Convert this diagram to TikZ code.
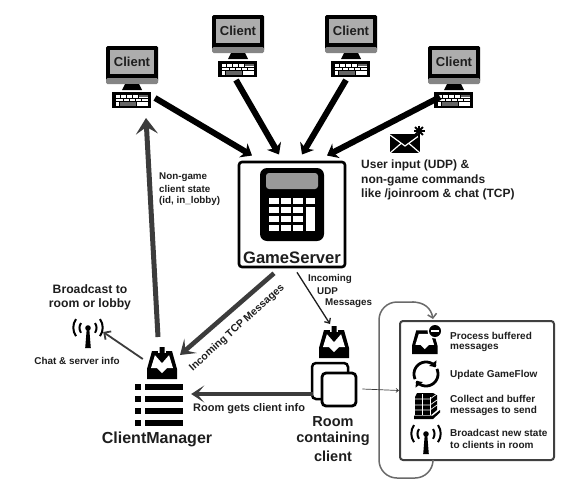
\documentclass[tikz,border=0pt]{standalone}
\usepackage{fontspec}
\setmainfont{Liberation Sans}
\usetikzlibrary{arrows.meta}
\definecolor{ink}{HTML}{1E1E1E}
\definecolor{dk}{HTML}{3C3C3C}
\definecolor{loopc}{HTML}{6A6A6A}
\tikzset{
  lbl/.style={font=\bfseries\fontsize{#1}{#1}\selectfont,text=ink,inner sep=0pt},
  lleft/.style={lbl=#1,anchor=west},
  bigarrow/.style={line width=6pt,black,-{Stealth[length=10pt,width=16pt,inset=3pt]}},
  darkarrow/.style={line width=5pt,dk,-{Stealth[length=16pt,width=22pt,inset=7pt]}},
  tcparrow/.style={line width=4.6pt,dk,-{Stealth[length=14pt,width=19pt,inset=7pt]}},
  medarrow/.style={line width=3.6pt,dk,-{Stealth[length=13pt,width=17pt,inset=7pt]}},
  smallarrow/.style={line width=1.8pt,dk,-{Straight Barb[length=5pt,width=10pt]}},
  thinarrow/.style={line width=.7pt,dk,-{Straight Barb[length=2.5pt,width=4pt]}},
  loopline/.style={line width=1.5pt,loopc,rounded corners=18pt},
  clientlabel/.style={lbl=13,text=ink},
  pics/clienticon/.style={code={
    \fill[black,rounded corners=1.5pt] (0,0) rectangle (52,36);
    \fill[black!48,rounded corners=1.5pt] (0,32) rectangle (52,38);
    \fill[black!32] (4,4) rectangle (48,28);
    \fill[black] (19,38) -- (33,38) -- (36,44) -- (16,44) -- cycle;
    \fill[black] (6,46) rectangle (45,62);
    \fill[white] (9.5,48.5) rectangle (42,59.5);
    \foreach \yy in {52,55.5} \draw[black,line width=.8pt] (9.5,\yy) -- (42,\yy);
    \foreach \xx in {14,20,26,32} \draw[black,line width=.8pt] (\xx,48.5) -- (\xx,52);
    \foreach \xx in {17,23,29,35} \draw[black,line width=.8pt] (\xx,52) -- (\xx,55.5);
    \foreach \xx in {13,30} \draw[black,line width=.8pt] (\xx,55.5) -- (\xx,59.5);
    \fill[black!60] (33,48.5) rectangle (42,51.2);
    \fill[black!60] (14,56.3) rectangle (30,59.5);
  }},
  pics/inboxicon/.style={code={
    \fill[black] (5,4) -- (25,4) -- (30,22) -- (30,32) -- (0,32) -- (0,22) -- cycle;
    \fill[white] (8,8) -- (22,8) -- (26,21) -- (20,21) -- (15,26) -- (10,21) -- (4,21) -- cycle;
    \fill[white] (11,0) rectangle (19,6);
    \fill[black] (12.5,0) -- (17.5,0) -- (17.5,8) -- (22,8) -- (15,16) -- (8,8) -- (12.5,8) -- cycle;
  }},
  pics/antennaicon/.style={code={
    \fill[black] (0,0) circle[radius=2.8pt];
    \fill[black] (-1.2,0) -- (1.2,0) -- (2.8,20) -- (-2.8,20) -- cycle;
    \draw[black,line width=2pt] (7,-5) arc[start angle=35,end angle=-35,radius=8.5pt];
    \draw[black,line width=2pt] (-7,-5) arc[start angle=145,end angle=215,radius=8.5pt];
    \draw[black,line width=2pt] (12,-9) arc[start angle=35,end angle=-35,radius=15pt];
    \draw[black,line width=2pt] (-12,-9) arc[start angle=145,end angle=215,radius=15pt];
  }}
}
\begin{document}
\begin{tikzpicture}[x=1pt,y=-1pt]
\useasboundingbox (0,0) rectangle (567,490);
\fill[white] (0,0) rectangle (567,490);

% clients
\pic at (106,46) {clienticon}; \node[clientlabel] (c1) at (132,62) {Client};
\pic at (212,15) {clienticon}; \node[clientlabel] (c2) at (238,31) {Client};
\pic at (325,15) {clienticon}; \node[clientlabel] (c3) at (351,31) {Client};
\pic at (428,46) {clienticon}; \node[clientlabel] (c4) at (454,62) {Client};

% game server
\node[draw=black,line width=2.6pt,rounded corners=3pt,minimum width=106pt,minimum height=105pt,inner sep=0pt] (gs) at (292,214.5) {};
\fill[black,rounded corners=7pt] (260,168) rectangle (324,241);
\fill[black!40,rounded corners=3pt] (266,173) rectangle (318,189);
\foreach \yy in {198,207,216,225} \foreach \xx in {269,281,293} \fill[white] (\xx,\yy) rectangle (\xx+9.5,\yy+6);
\fill[white] (306,198) rectangle (315,204);
\fill[white] (306,207) rectangle (315,231);
\node[lbl=16.6] (gst) at (292,258) {GameServer};

% big arrows
\draw[bigarrow] ([shift={(23,36)}]c1.center) -- ([shift={(-40,-59)}]gs.center);
\draw[bigarrow] ([shift={(-2,49)}]c2.center) -- ([shift={(-13,-60)}]gs.center);
\draw[bigarrow] ([shift={(-5,49)}]c3.center) -- ([shift={(10,-60)}]gs.center);
\draw[bigarrow] ([shift={(-14,35)}]c4.center) -- ([shift={(35,-59)}]gs.center);

% envelope
\fill[black] (390,134) rectangle (420,153);
\draw[white,line width=1.2pt] (390,135) -- (405,146) -- (420,135);
\draw[white,line width=1.2pt] (390,153) -- (401,143.5);
\draw[white,line width=1.2pt] (420,153) -- (409,143.5);
\foreach \aa in {0,45,90,135} \draw[black,line width=2pt] (419,131) ++(\aa:5.5pt) -- ++(\aa+180:11pt);
\node[lleft=12] (u1) at (361,165.5) {User input (UDP) \&};
\node[lleft=12] (u2) at (361,180) {non-game commands};
\node[lleft=12] (u3) at (361,194) {like /joinroom \& chat (TCP)};

% client manager
\pic at (147,347) {inboxicon};
\node[inner sep=0pt,minimum width=30pt,minimum height=32pt] (cmin) at (162,363) {};
\foreach \yy in {384,396,408,420} {
  \fill[black] (135,\yy) rectangle (141,\yy+6);
  \fill[black] (145,\yy) rectangle (183,\yy+6);
}
\node[inner sep=0pt,minimum width=48pt,minimum height=42pt] (cml) at (159,405) {};
\node[lbl=16] (cm) at (157,439) {ClientManager};

% room
\pic at (319,326) {inboxicon};
\node[inner sep=0pt,minimum width=30pt,minimum height=32pt] (rin) at (334,342) {};
\draw[black,line width=2.5pt,rounded corners=4pt] (321,399) -- (312,399) -- (312,363) -- (348,363) -- (348,372);
\node[draw=black,line width=2.8pt,rounded corners=4pt,minimum width=34pt,minimum height=33pt,inner sep=0pt] (room) at (339,389.5) {};
\node[lbl=14.5] (rt1) at (333,422) {Room};
\node[lbl=14.5] (rt2) at (333,439) {containing};
\node[lbl=14.5] (rt3) at (333,456) {client};

% broadcast
\pic at (88,328) {antennaicon};
\node[inner sep=0pt,minimum width=30pt,minimum height=30pt] (ant) at (88,332) {};
\node[lbl=12.2] (b1) at (90,289.5) {Broadcast to};
\node[lbl=12.2] (b2) at (90,304) {room or lobby};
\node[lbl=9.9] (chat) at (77,361) {Chat \& server info};

% process box
\node[draw=black!75,line width=2pt,rounded corners=3pt,minimum width=154pt,minimum height=139pt,inner sep=0pt] (pb) at (477,390.5) {};
\coordinate (loopa) at (433,461);
\coordinate (loopb) at (433,319);
\draw[loopline] (loopa) -- (433,478) -- (379,478) -- (379,302) -- (414,302);
\draw[line width=1.5pt,loopc,-{Straight Barb[length=4pt,width=9pt]}] (412,302) .. controls (424,302) and (431,308) .. (loopb);

% process icons
\begin{scope}[shift={(412,327)},x=.85pt,y=-.85pt]
 \fill[black] (5,4) -- (25,4) -- (30,22) -- (30,32) -- (0,32) -- (0,22) -- cycle;
 \fill[white] (8,8) -- (22,8) -- (26,21) -- (20,21) -- (15,26) -- (10,21) -- (4,21) -- cycle;
\end{scope}
\fill[white] (435,331) circle[radius=7.5pt];
\fill[black] (435,331) circle[radius=6pt];
\fill[white] (431,330) rectangle (439,332);
\begin{scope}[shift={(426,374)},x=1pt,y=1pt]
 \draw[black,line width=2.8pt,-{Triangle[length=5pt,width=9pt]}] plot[domain=205:35,samples=40,variable=\t] ({12*cos(\t)},{12*sin(\t)});
 \draw[black,line width=2.8pt,-{Triangle[length=5pt,width=9pt]}] plot[domain=25:-145,samples=40,variable=\t] ({12*cos(\t)},{12*sin(\t)});
\end{scope}
% pallet
\fill[black] (417,393) -- (433,393) -- (437,395) -- (437,410) -- (431,415) -- (415,415) -- (415,397) -- cycle;
\foreach \yy in {399,405,410} \draw[white,line width=.7pt] (415,\yy) -- (430,\yy) -- (437,\yy-5);
\draw[white,line width=.7pt] (422,394) -- (422,415) (430,397) -- (430,415);
\fill[black] (414,415.5) -- (433,415.5) -- (440,410) -- (440,412.5) -- (433,419) -- (414,419) -- cycle;
\pic at (426,434) {antennaicon};
\node[lleft=10] at (450,336) {Process buffered};
\node[lleft=10] at (450,348) {messages};
\node[lleft=10] at (450,375) {Update GameFlow};
\node[lleft=10] at (450,399) {Collect and buffer};
\node[lleft=10] at (450,411) {messages to send};
\node[lleft=10] at (450,433) {Broadcast new state};
\node[lleft=10] at (450,445) {to clients in room};

% connectors
\draw[darkarrow] ([shift={(-4,-26)}]cmin.center) -- ([shift={(-16,-245)}]cmin.center);
\draw[smallarrow] ([shift={(-4,-4)}]cmin.west) -- (ant.east);
\draw[tcparrow] ([shift={(-18,5)}]gs.south) -- ([shift={(18,-8)}]cmin.center);
\draw[line width=1.3pt,ink,-{Straight Barb[length=4pt,width=7pt]}] ([shift={(5,4)}]gs.south) -- ([shift={(-4,-18)}]rin.center);
\draw[medarrow] ([shift={(-8,4.5)}]room.west) -- ([shift={(8,-11)}]cml.east);
\draw[thinarrow] ([shift={(5,-.5)}]room.east) -- (pb.west);

% labels
\node[lleft=9.8] at (159,177) {Non-game};
\node[lleft=9.8] at (159,189) {client state};
\node[lleft=9.8] at (159,201) {(id, in\_lobby)};
\node[lleft=9.8] at (308,279) {Incoming};
\node[lleft=9.8] at (317,291) {UDP};
\node[lleft=9.8] at (325,303) {Messages};
\node[lbl=10.5,rotate=42] at (237,328) {Incoming TCP Messages};
\node[lleft=11] at (193,409) {Room gets client info};
\end{tikzpicture}
\end{document}
